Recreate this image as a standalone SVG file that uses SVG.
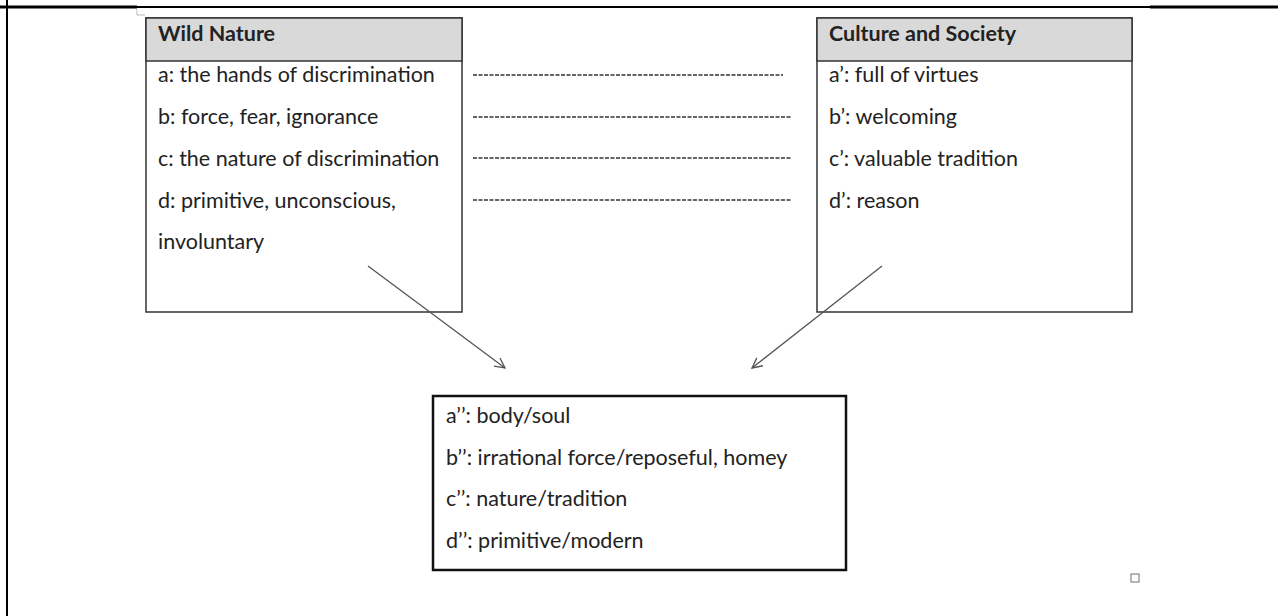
<svg xmlns="http://www.w3.org/2000/svg" width="1278" height="616" viewBox="0 0 1278 616">
<style>
.frame{fill:none;stroke:#000;stroke-width:2}
.box{fill:#fff;stroke:#333;stroke-width:1.5}
.hdr{fill:#d9d9d9;stroke:#333;stroke-width:1.5}
.t{font-family:"Lato","Liberation Sans",sans-serif;font-size:21.5px;fill:#222}
.b{font-weight:bold}
.dash{stroke:#333;stroke-width:1.3;stroke-dasharray:4 1.5;fill:none}
.arr{stroke:#555;stroke-width:1.3;fill:none}
</style>
<defs>
<marker id="open" viewBox="0 0 12 12" refX="11" refY="6" markerWidth="12" markerHeight="12" markerUnits="userSpaceOnUse" orient="auto">
<path d="M1,1 L11,6 L1,11" fill="none" stroke="#555" stroke-width="1.3"/>
</marker>
</defs>
<rect width="1278" height="616" fill="#fff"/>
<g id="frame">
<line class="frame" x1="0" y1="7" x2="1278" y2="7"/>
<line x1="0" y1="7" x2="137" y2="7" stroke="#000" stroke-width="3"/>
<line x1="1150" y1="7" x2="1278" y2="7" stroke="#000" stroke-width="3"/>
<line class="frame" x1="7" y1="0" x2="7" y2="616"/>
<path d="M137,9 V15 H145" fill="none" stroke="#bbb" stroke-width="1"/>
</g>
<g id="wild-nature">
<rect class="box" x="146" y="18" width="316" height="294"/>
<rect class="hdr" x="146" y="18" width="316" height="43"/>
<text class="t b" x="158" y="41">Wild Nature</text>
<text class="t" x="158" y="82">a: the hands of discrimination</text>
<text class="t" x="158" y="124">b: force, fear, ignorance</text>
<text class="t" x="158" y="166">c: the nature of discrimination</text>
<text class="t" x="158" y="208">d: primitive, unconscious,</text>
<text class="t" x="158" y="249">involuntary</text>
</g>
<g id="culture-society">
<rect class="box" x="817" y="18" width="315" height="294"/>
<rect class="hdr" x="817" y="18" width="315" height="43"/>
<text class="t b" x="829" y="41">Culture and Society</text>
<text class="t" x="829" y="82">a’: full of virtues</text>
<text class="t" x="829" y="124">b’: welcoming</text>
<text class="t" x="829" y="166">c’: valuable tradition</text>
<text class="t" x="829" y="208">d’: reason</text>
</g>
<g id="synthesis">
<rect x="433" y="396" width="413" height="174" fill="#fff" stroke="#111" stroke-width="2.5"/>
<text class="t" x="446" y="423">a’’: body/soul</text>
<text class="t" x="446" y="465">b’’: irrational force/reposeful, homey</text>
<text class="t" x="446" y="506">c’’: nature/tradition</text>
<text class="t" x="446" y="548">d’’: primitive/modern</text>
</g>
<g id="connectors">
<line class="dash" x1="473" y1="75" x2="783" y2="75"/>
<line class="dash" x1="473" y1="117" x2="792" y2="117"/>
<line class="dash" x1="473" y1="158" x2="792" y2="158"/>
<line class="dash" x1="473" y1="200" x2="792" y2="200"/>
<line class="arr" x1="368" y1="266" x2="505" y2="368" marker-end="url(#open)"/>
<line class="arr" x1="882" y1="266" x2="752" y2="368" marker-end="url(#open)"/>
</g>
<rect x="1131" y="574" width="8" height="8" fill="none" stroke="#888" stroke-width="1.2"/>
</svg>
